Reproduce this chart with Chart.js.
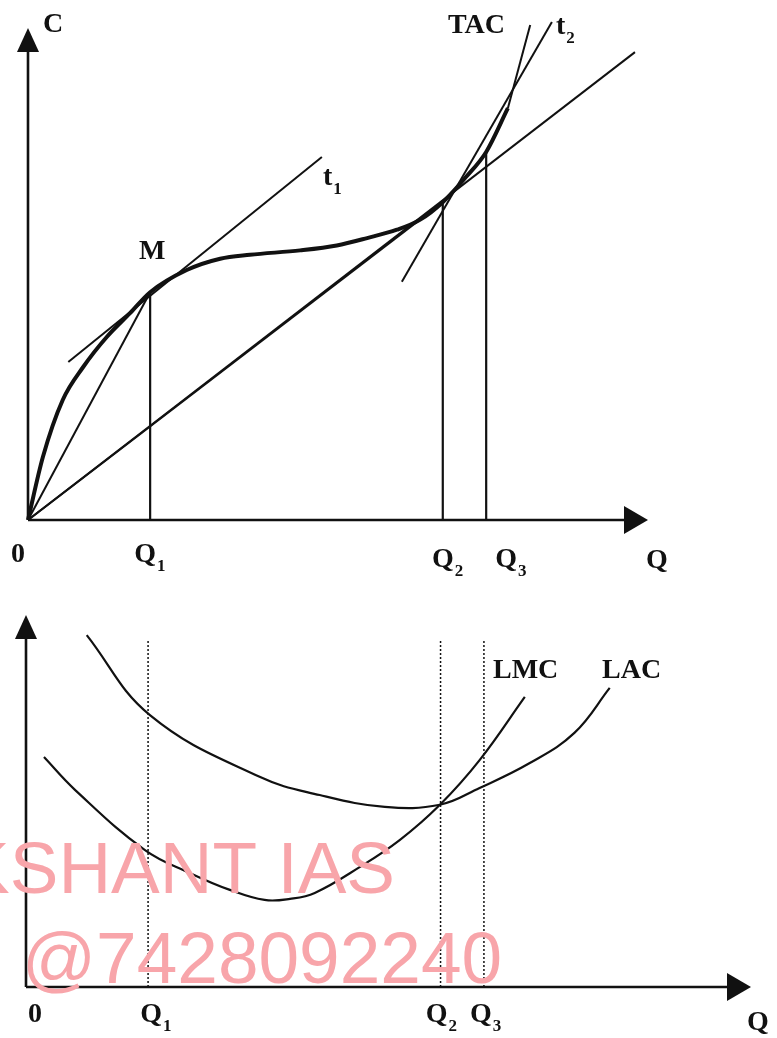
<!DOCTYPE html>
<html>
<head>
<meta charset="utf-8">
<script src="https://cdn.jsdelivr.net/npm/chart.js@4.4.1/dist/chart.umd.min.js"></script>
<style>
  html, body { margin: 0; padding: 0; background: #fff; }
  body { width: 777px; height: 1038px; position: relative; overflow: hidden; }
  canvas { position: absolute; left: 0; }
  #tac-chart { top: 0; }
  #cost-chart { top: 590px; }
</style>
</head>
<body>
<canvas id="tac-chart" width="777" height="590"></canvas>
<canvas id="cost-chart" width="777" height="448"></canvas>
<script>
// Output levels marked on both panels
const qMarks = [1.97, 6.69, 7.39];
const qSubs = ['1', '2', '3'];

// Top panel: total cost curve (TAC)
const tacQ = [0, 0.24, 0.56, 0.89, 1.27, 1.65, 1.97, 2.56, 3.10, 3.58, 4.39, 4.98, 5.47, 5.95, 6.32, 6.69, 7.05, 7.39, 7.74];
const tacC = [0, 1.28, 2.44, 3.11, 3.72, 4.21, 4.63, 5.08, 5.31, 5.39, 5.48, 5.58, 5.73, 5.90, 6.10, 6.46, 6.95, 7.48, 8.37];
const tacTailQ = [7.74, 8.10];
const tacTailC = [8.37, 10.06];
// TAC at each marked output
const qMarkC = [4.63, 6.46, 7.48];
// rays from the origin: to M, to Q2 point, long ray
const rayEndQ = [1.97, 6.69, 9.79];
const rayEndC = [4.63, 6.46, 9.51];
// tangents t1 and t2
const t1Q = [0.65, 4.74];
const t1C = [3.21, 7.38];
const t2Q = [6.03, 8.45];
const t2C = [4.84, 10.12];

// Bottom panel: long run average and marginal cost
const lacQ = [0.98, 2.0, 3.77, 4.74, 5.79, 6.68, 7.32, 8.13, 8.85, 9.42];
const lacC = [9.46, 7.31, 5.65, 5.16, 4.84, 4.90, 5.35, 6.02, 6.83, 8.04];
const lmcQ = [0.29, 0.79, 1.92, 2.65, 3.29, 3.85, 4.26, 4.66, 5.39, 6.03, 6.68, 7.32, 8.05];
const lmcC = [6.18, 5.30, 3.68, 3.06, 2.61, 2.34, 2.37, 2.53, 3.23, 3.95, 4.90, 6.10, 7.80];
const dotTopC = 9.33;

const INK = '#111';
const SERIF = '"Liberation Serif", "DejaVu Serif", serif';

const pts = (qs, cs) => qs.map((q, i) => ({ x: q, y: cs[i] }));

function lineSet(label, qs, cs, width, extra) {
  return Object.assign({
    label,
    data: pts(qs, cs),
    showLine: true,
    borderColor: INK,
    borderWidth: width,
    pointRadius: 0,
    fill: false,
    tension: 0,
    clip: false,
  }, extra || {});
}

// draw a label with an optional subscript; x is the centre of the main text
function drawLabel(ctx, text, sub, x, y, size, align) {
  ctx.font = 'bold ' + size + 'px ' + SERIF;
  const w = ctx.measureText(text).width;
  const left = align === 'left' ? x : x - w / 2;
  ctx.textAlign = 'left';
  ctx.textBaseline = 'alphabetic';
  ctx.fillText(text, left, y);
  if (sub) {
    ctx.font = 'bold ' + Math.round(size * 0.6) + 'px ' + SERIF;
    ctx.fillText(sub, left + w + 1, y + 9);
  }
}

// Axis lines with solid arrow heads
const axesArrows = {
  id: 'axesArrows',
  beforeDatasetsDraw(c) {
    const { ctx, scales: { x, y } } = c;
    const x0 = x.getPixelForValue(0);
    const y0 = y.getPixelForValue(0);
    const xEnd = x.getPixelForValue(x.max);
    const yEnd = y.getPixelForValue(y.max);
    ctx.save();
    ctx.strokeStyle = INK;
    ctx.fillStyle = INK;
    ctx.lineWidth = 2.6;
    ctx.beginPath();
    ctx.moveTo(x0, y0);
    ctx.lineTo(xEnd - 20, y0);
    ctx.moveTo(x0, y0);
    ctx.lineTo(x0, yEnd + 20);
    ctx.stroke();
    ctx.beginPath();
    ctx.moveTo(xEnd, y0);
    ctx.lineTo(xEnd - 24, y0 - 14);
    ctx.lineTo(xEnd - 24, y0 + 14);
    ctx.closePath();
    ctx.fill();
    ctx.beginPath();
    ctx.moveTo(x0, yEnd);
    ctx.lineTo(x0 - 11, yEnd + 24);
    ctx.lineTo(x0 + 11, yEnd + 24);
    ctx.closePath();
    ctx.fill();
    ctx.restore();
  },
};

const hidden = { display: false };

// ---- Top panel ----
const topChart = new Chart(document.getElementById('tac-chart'), {
  type: 'scatter',
  data: {
    datasets: [
      lineSet('TAC', tacQ, tacC, 4, { tension: 0.4, cubicInterpolationMode: 'monotone' }),
      lineSet('TAC tail', tacTailQ, tacTailC, 2),
      ...rayEndQ.map((q, i) => lineSet('ray ' + i, [0, q], [0, rayEndC[i]], 2)),
      lineSet('t1', t1Q, t1C, 2),
      lineSet('t2', t2Q, t2C, 2),
      ...qMarks.map((q, i) => lineSet('Q' + qSubs[i], [q, q], [0, qMarkC[i]], 2.2)),
    ],
  },
  options: {
    responsive: false,
    animation: false,
    events: [],
    layout: { padding: { left: 28, right: 129, top: 28, bottom: 70 } },
    scales: {
      x: { type: 'linear', min: 0, max: 10, ...hidden },
      y: { type: 'linear', min: 0, max: 10, ...hidden },
    },
    plugins: { legend: hidden, tooltip: { enabled: false } },
  },
  plugins: [axesArrows, {
    id: 'topLabels',
    afterDraw(c) {
      const { ctx, scales: { x, y } } = c;
      ctx.save();
      ctx.fillStyle = INK;
      const base = y.getPixelForValue(0);
      drawLabel(ctx, 'C', null, x.getPixelForValue(0) + 15, y.getPixelForValue(10) + 4, 28, 'left');
      drawLabel(ctx, 'M', null, x.getPixelForValue(qMarks[0]) + 2, y.getPixelForValue(qMarkC[0]) - 33, 28);
      drawLabel(ctx, 't', '1', x.getPixelForValue(t1Q[1]) + 1, y.getPixelForValue(t1C[1]) + 28, 28, 'left');
      drawLabel(ctx, 'TAC', null, 448, 33, 28, 'left');
      drawLabel(ctx, 't', '2', 556, 34, 28, 'left');
      drawLabel(ctx, '0', null, 18, base + 42, 28);
      const qShift = [-5, 0, 20];
      const qDrop = [42, 47, 47];
      qMarks.forEach((q, i) => {
        drawLabel(ctx, 'Q', qSubs[i], x.getPixelForValue(q) + qShift[i], base + qDrop[i], 28);
      });
      drawLabel(ctx, 'Q', null, 657, base + 48, 28);
      ctx.restore();
    },
  }],
});

// ---- Bottom panel ----
const costChart = new Chart(document.getElementById('cost-chart'), {
  type: 'scatter',
  data: {
    datasets: [
      lineSet('LAC', lacQ, lacC, 2.2, { tension: 0.4 }),
      lineSet('LMC', lmcQ, lmcC, 2.2, { tension: 0.4 }),
      ...qMarks.map((q, i) => lineSet('Q' + qSubs[i], [q, q], [0, dotTopC], 1.5, { borderDash: [2, 2] })),
    ],
  },
  options: {
    responsive: false,
    animation: false,
    events: [],
    layout: { padding: { left: 26, right: 26, top: 25, bottom: 51 } },
    scales: {
      x: { type: 'linear', min: 0, max: 11.7, ...hidden },
      y: { type: 'linear', min: 0, max: 10, ...hidden },
    },
    plugins: { legend: hidden, tooltip: { enabled: false } },
  },
  plugins: [axesArrows, {
    id: 'bottomLabels',
    afterDraw(c) {
      const { ctx, scales: { x, y } } = c;
      ctx.save();
      ctx.fillStyle = INK;
      const base = y.getPixelForValue(0);
      drawLabel(ctx, '0', null, 35, base + 35, 28);
      const qShift = [3, -4, -3];
      qMarks.forEach((q, i) => {
        drawLabel(ctx, 'Q', qSubs[i], x.getPixelForValue(q) + qShift[i], base + 35, 28);
      });
      drawLabel(ctx, 'Q', null, 758, base + 43, 28);
      drawLabel(ctx, 'LMC', null, 493, 88, 28, 'left');
      drawLabel(ctx, 'LAC', null, 602, 88, 28, 'left');
      // watermark
      ctx.fillStyle = 'rgb(248, 165, 170)';
      ctx.font = '73px "Liberation Sans", Arial, sans-serif';
      ctx.textAlign = 'left';
      ctx.fillText('KSHANT IAS', -39, 303);
      ctx.fillText('@7428092240', 22, 393);
      ctx.restore();
    },
  }],
});
</script>
</body>
</html>
